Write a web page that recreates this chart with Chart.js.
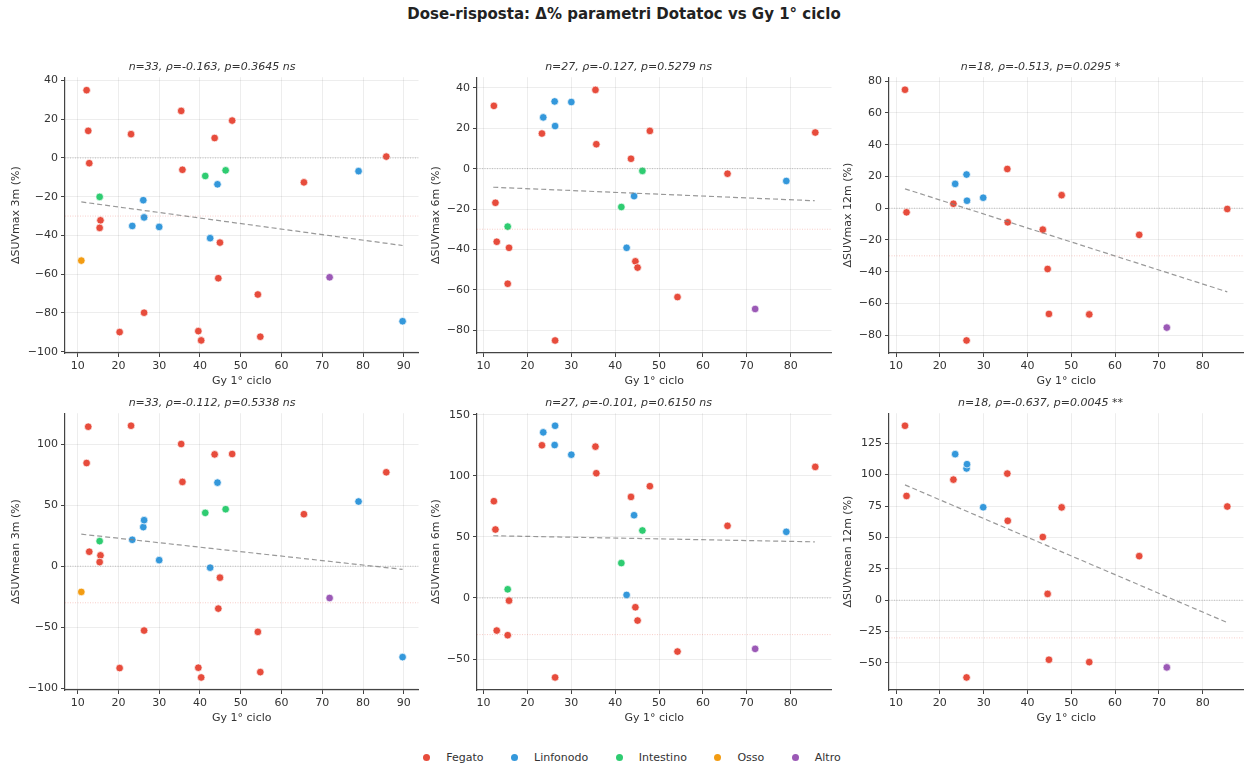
<!DOCTYPE html>
<html>
<head>
<meta charset="utf-8">
<script src="https://cdn.jsdelivr.net/npm/chart.js@4"></script>
<style>
  html, body { margin:0; padding:0; background:#fff; }
  body { width:1248px; height:767px; position:relative; overflow:hidden;
         font-family:"DejaVu Sans", sans-serif; color:#222; }
  #title { position:absolute; left:0; width:1248px; top:5px; text-align:center;
           font-weight:bold; font-size:15px; }
  canvas { position:absolute; }
  #legend { position:absolute; top:751px; left:0; width:1248px; display:flex;
            justify-content:center; font-size:11px; color:#333;
            box-sizing:border-box; padding-left:16px; }
  #legend span.it { display:flex; align-items:center; margin:0 13.75px; }
  #legend i { display:inline-block; width:7px; height:7px; border-radius:50%;
              margin-right:16px; }
</style>
</head>
<body>
<div id="title">Dose-risposta: Δ% parametri Dotatoc vs Gy 1° ciclo</div>
<div id="legend"></div>
<script>
"use strict";

const SITES = ["Fegato", "Linfonodo", "Intestino", "Osso", "Altro"];
const SITE_COLORS = ["#e74c3c", "#3498db", "#2ecc71", "#f39c12", "#9b59b6"];

/* 3 months: 33 lesions */
const GY_3M = [12.2, 12.6, 12.85, 23.1, 35.4, 35.7, 47.9, 43.6, 85.7, 65.5,
  15.6, 15.4, 44.9, 44.5, 54.2, 26.3, 20.3, 39.6, 40.3, 54.8,
  26.1, 26.3, 23.4, 30.0, 42.5, 44.3, 78.9, 89.7,
  15.4, 41.3, 46.3, 10.9, 71.8];
const SITE_3M = [0,0,0,0,0,0,0,0,0,0, 0,0,0,0,0,0,0,0,0,0,
  1,1,1,1,1,1,1,1, 2,2,2, 3, 4];
const SUVMAX_3M = [35.0, 14.0, -2.7, 12.3, 24.3, -6.1, 19.3, 10.3, 0.7, -12.6,
  -32.2, -36.1, -43.7, -62.1, -70.5, -79.9, -89.9, -89.4, -94.2, -92.3,
  -21.8, -30.7, -35.1, -35.6, -41.4, -13.6, -6.8, -84.3,
  -20.1, -9.3, -6.4, -53.0, -61.6];
const SUVMEAN_3M = [84.7, 114.5, 11.9, 115.3, 100.3, 69.2, 92.1, 91.8, 77.1, 42.7,
  8.9, 3.4, -9.4, -34.8, -53.9, -52.8, -83.6, -83.3, -91.3, -86.9,
  32.1, 37.8, 21.7, 5.0, -1.2, 68.6, 53.1, -74.6,
  20.6, 43.8, 46.8, -21.1, -26.1];

/* 6 months: 27 lesions */
const GY_6M = [12.35, 23.3, 35.5, 35.7, 47.9, 85.6, 43.6, 65.6, 12.7, 13.0,
  15.8, 15.5, 44.6, 45.1, 54.2, 26.3,
  26.2, 30.0, 23.6, 26.3, 44.3, 42.6, 79.0,
  46.2, 41.4, 15.5, 71.9];
const SITE_6M = [0,0,0,0,0,0,0,0,0,0,0,0,0,0,0,0, 1,1,1,1,1,1,1, 2,2,2, 4];
const SUVMAX_6M = [31.1, 17.4, 39.0, 12.1, 18.7, 17.9, 4.9, -2.5, -16.9, -36.2,
  -39.2, -57.0, -45.9, -49.0, -63.6, -85.1,
  33.3, 33.0, 25.4, 21.1, -13.6, -39.2, -6.1,
  -1.1, -19.0, -28.7, -69.5];
const SUVMEAN_6M = [79.3, 125.1, 124.0, 102.2, 91.6, 107.4, 82.8, 59.1, 56.1, -26.7,
  -2.2, -30.5, -7.6, -18.5, -43.9, -65.1,
  125.3, 117.4, 135.7, 141.1, 67.8, 2.5, 54.2,
  55.3, 28.6, 7.1, -41.7];

/* 12 months: 18 lesions */
const GY_12M = [12.05, 12.4, 23.1, 35.4, 35.5, 47.8, 43.5, 85.6, 65.5, 44.6,
  44.9, 54.1, 26.1, 23.5, 26.1, 26.2, 29.9, 71.8];
const SITE_12M = [0,0,0,0,0,0,0,0,0,0,0,0,0, 1,1,1,1, 4];
const SUVMAX_12M = [74.6, -2.6, 2.8, 24.7, -8.9, 8.2, -13.5, -0.5, -16.8, -38.3,
  -66.6, -66.9, -83.3, 15.3, 21.2, 4.7, 6.6, -75.2];
const SUVMEAN_12M = [138.9, 83.0, 96.0, 100.8, 63.2, 73.9, 50.3, 74.6, 35.1, 5.0,
  -47.4, -49.3, -61.5, 116.3, 104.9, 108.3, 74.0, -53.5];

/* regression line end points: [x0, y0, x1, y1] */
const TREND_MAX_3M = [10.9, -22.7, 89.7, -45.2];
const TREND_MEAN_3M = [10.9, 26.3, 89.7, -2.6];
const TREND_MAX_6M = [12.2, -9.2, 85.5, -15.9];
const TREND_MEAN_6M = [12.2, 51.0, 85.5, 46.0];
const TREND_MAX_12M = [12.05, 12.2, 85.6, -52.7];
const TREND_MEAN_12M = [12.05, 91.8, 85.6, -17.8];

const TITLES = [
  "n=33, ρ=-0.163, p=0.3645 ns", "n=27, ρ=-0.127, p=0.5279 ns",
  "n=18, ρ=-0.513, p=0.0295 *", "n=33, ρ=-0.112, p=0.5338 ns",
  "n=27, ρ=-0.101, p=0.6150 ns", "n=18, ρ=-0.637, p=0.0045 **"];
const Y_LABELS = ["ΔSUVmax 3m (%)", "ΔSUVmax 6m (%)", "ΔSUVmax 12m (%)",
  "ΔSUVmean 3m (%)", "ΔSUVmean 6m (%)", "ΔSUVmean 12m (%)"];

const X_TICKS_3M = [10, 20, 30, 40, 50, 60, 70, 80, 90];
const X_TICKS_612 = [10, 20, 30, 40, 50, 60, 70, 80];
const Y_TICKS = [
  [-100, -80, -60, -40, -20, 0, 20, 40],
  [-80, -60, -40, -20, 0, 20, 40],
  [-80, -60, -40, -20, 0, 20, 40, 60, 80],
  [-100, -50, 0, 50, 100],
  [-50, 0, 50, 100, 150],
  [-50, -25, 0, 25, 50, 75, 100, 125]];
const X_LIM = [[6.9, 93.6], [8.5, 89.3], [8.4, 89.3]];
const Y_LIM = [[-100.7, 41.7], [-91.3, 45.3], [-91.2, 82.5],
  [-101.6, 125.6], [-75.4, 151.4], [-71.5, 148.9]];

const REF_LINE = -30;

/* plot-area frames in page pixels */
const COL_L = [65, 477, 889], COL_R = [419, 832, 1244];
const ROW_T = [77, 413], ROW_B = [353, 690];
const YAXIS_W = [60, 52, 52];

const PANELS = [
  [GY_3M, SITE_3M, SUVMAX_3M, TREND_MAX_3M, X_TICKS_3M],
  [GY_6M, SITE_6M, SUVMAX_6M, TREND_MAX_6M, X_TICKS_612],
  [GY_12M, SITE_12M, SUVMAX_12M, TREND_MAX_12M, X_TICKS_612],
  [GY_3M, SITE_3M, SUVMEAN_3M, TREND_MEAN_3M, X_TICKS_3M],
  [GY_6M, SITE_6M, SUVMEAN_6M, TREND_MEAN_6M, X_TICKS_612],
  [GY_12M, SITE_12M, SUVMEAN_12M, TREND_MEAN_12M, X_TICKS_612]];

const FONT = "DejaVu Sans";
const minus = (v) => String(v).replace("-", "\u2212");

PANELS.forEach(([gy, site, vals, trend, xTicks], i) => {
  const col = i % 3, row = Math.floor(i / 3);
  const [xmin, xmax] = X_LIM[col];
  const [ymin, ymax] = Y_LIM[i];
  const yw = YAXIS_W[col];
  const cv = document.createElement("canvas");
  const w = yw + (COL_R[col] - COL_L[col]) + 4;
  const h = (ROW_B[row] - ROW_T[row]) + 60;
  cv.width = w; cv.height = h;
  cv.style.left = (COL_L[col] - yw) + "px";
  cv.style.top = (ROW_T[row] - 20) + "px";
  document.body.appendChild(cv);

  const lines = [
    { type: "line", data: [{ x: trend[0], y: trend[1] }, { x: trend[2], y: trend[3] }],
      borderColor: "rgba(128,128,128,0.8)", borderWidth: 1.2, borderDash: [5, 3],
      pointRadius: 0 },
    { type: "line", data: [{ x: xmin, y: 0 }, { x: xmax, y: 0 }],
      borderColor: "rgba(128,128,128,0.6)", borderWidth: 0.8, borderDash: [1, 1.5],
      pointRadius: 0 },
    { type: "line", data: [{ x: xmin, y: REF_LINE }, { x: xmax, y: REF_LINE }],
      borderColor: "rgba(231,76,60,0.35)", borderWidth: 0.8, borderDash: [1, 1.5],
      pointRadius: 0 }];
  const dots = SITES.map((name, s) => ({
    type: "scatter", label: name,
    data: gy.map((x, k) => ({ x, y: vals[k] })).filter((_, k) => site[k] === s),
    backgroundColor: SITE_COLORS[s], borderColor: "#fff", borderWidth: 0.7,
    pointRadius: 3.8, pointHoverRadius: 3.8 })).filter((d) => d.data.length);

  const tickFont = { family: FONT, size: 11 };
  new Chart(cv, {
    type: "scatter",
    data: { datasets: [...lines, ...dots] },
    options: {
      responsive: false, animation: false, devicePixelRatio: 1,
      layout: { padding: { left: 0, right: 4, top: 0, bottom: 0 } },
      plugins: {
        legend: { display: false }, tooltip: { enabled: false },
        title: { display: true, text: TITLES[i], color: "#333",
          font: { family: FONT, size: 11, style: "italic", weight: "normal" },
          padding: { top: 4, bottom: 3 } } },
      scales: {
        x: { type: "linear", min: xmin, max: xmax,
          afterBuildTicks: (s) => { s.ticks = xTicks.map((v) => ({ value: v })); },
          afterFit: (s) => { s.height = 40; },
          ticks: { font: tickFont, color: "#333", padding: 3, maxRotation: 0,
            callback: (v) => minus(v) },
          grid: { color: "rgba(0,0,0,0.07)", drawTicks: true, tickLength: 4,
            tickColor: "#444" },
          border: { display: true, color: "#444", width: 1.2 },
          title: { display: true, text: "Gy 1° ciclo", color: "#333",
            font: { family: FONT, size: 11 }, padding: { top: 5, bottom: 5 } } },
        y: { type: "linear", min: ymin, max: ymax,
          afterBuildTicks: (s) => { s.ticks = Y_TICKS[i].map((v) => ({ value: v })); },
          afterFit: (s) => { s.width = yw; },
          ticks: { font: tickFont, color: "#333", padding: 3,
            callback: (v) => minus(v) },
          grid: { color: "rgba(0,0,0,0.07)", drawTicks: true, tickLength: 4,
            tickColor: "#444" },
          border: { display: true, color: "#444", width: 1.2 },
          title: { display: true, text: Y_LABELS[i], color: "#333",
            font: { family: FONT, size: 11 }, padding: { top: 5, bottom: 5 } } } } }
  });
});

const legend = document.getElementById("legend");
legend.innerHTML = SITES.map((name, s) =>
  `<span class="it"><i style="background:${SITE_COLORS[s]}"></i>${name}</span>`).join("");
</script>
</body>
</html>
